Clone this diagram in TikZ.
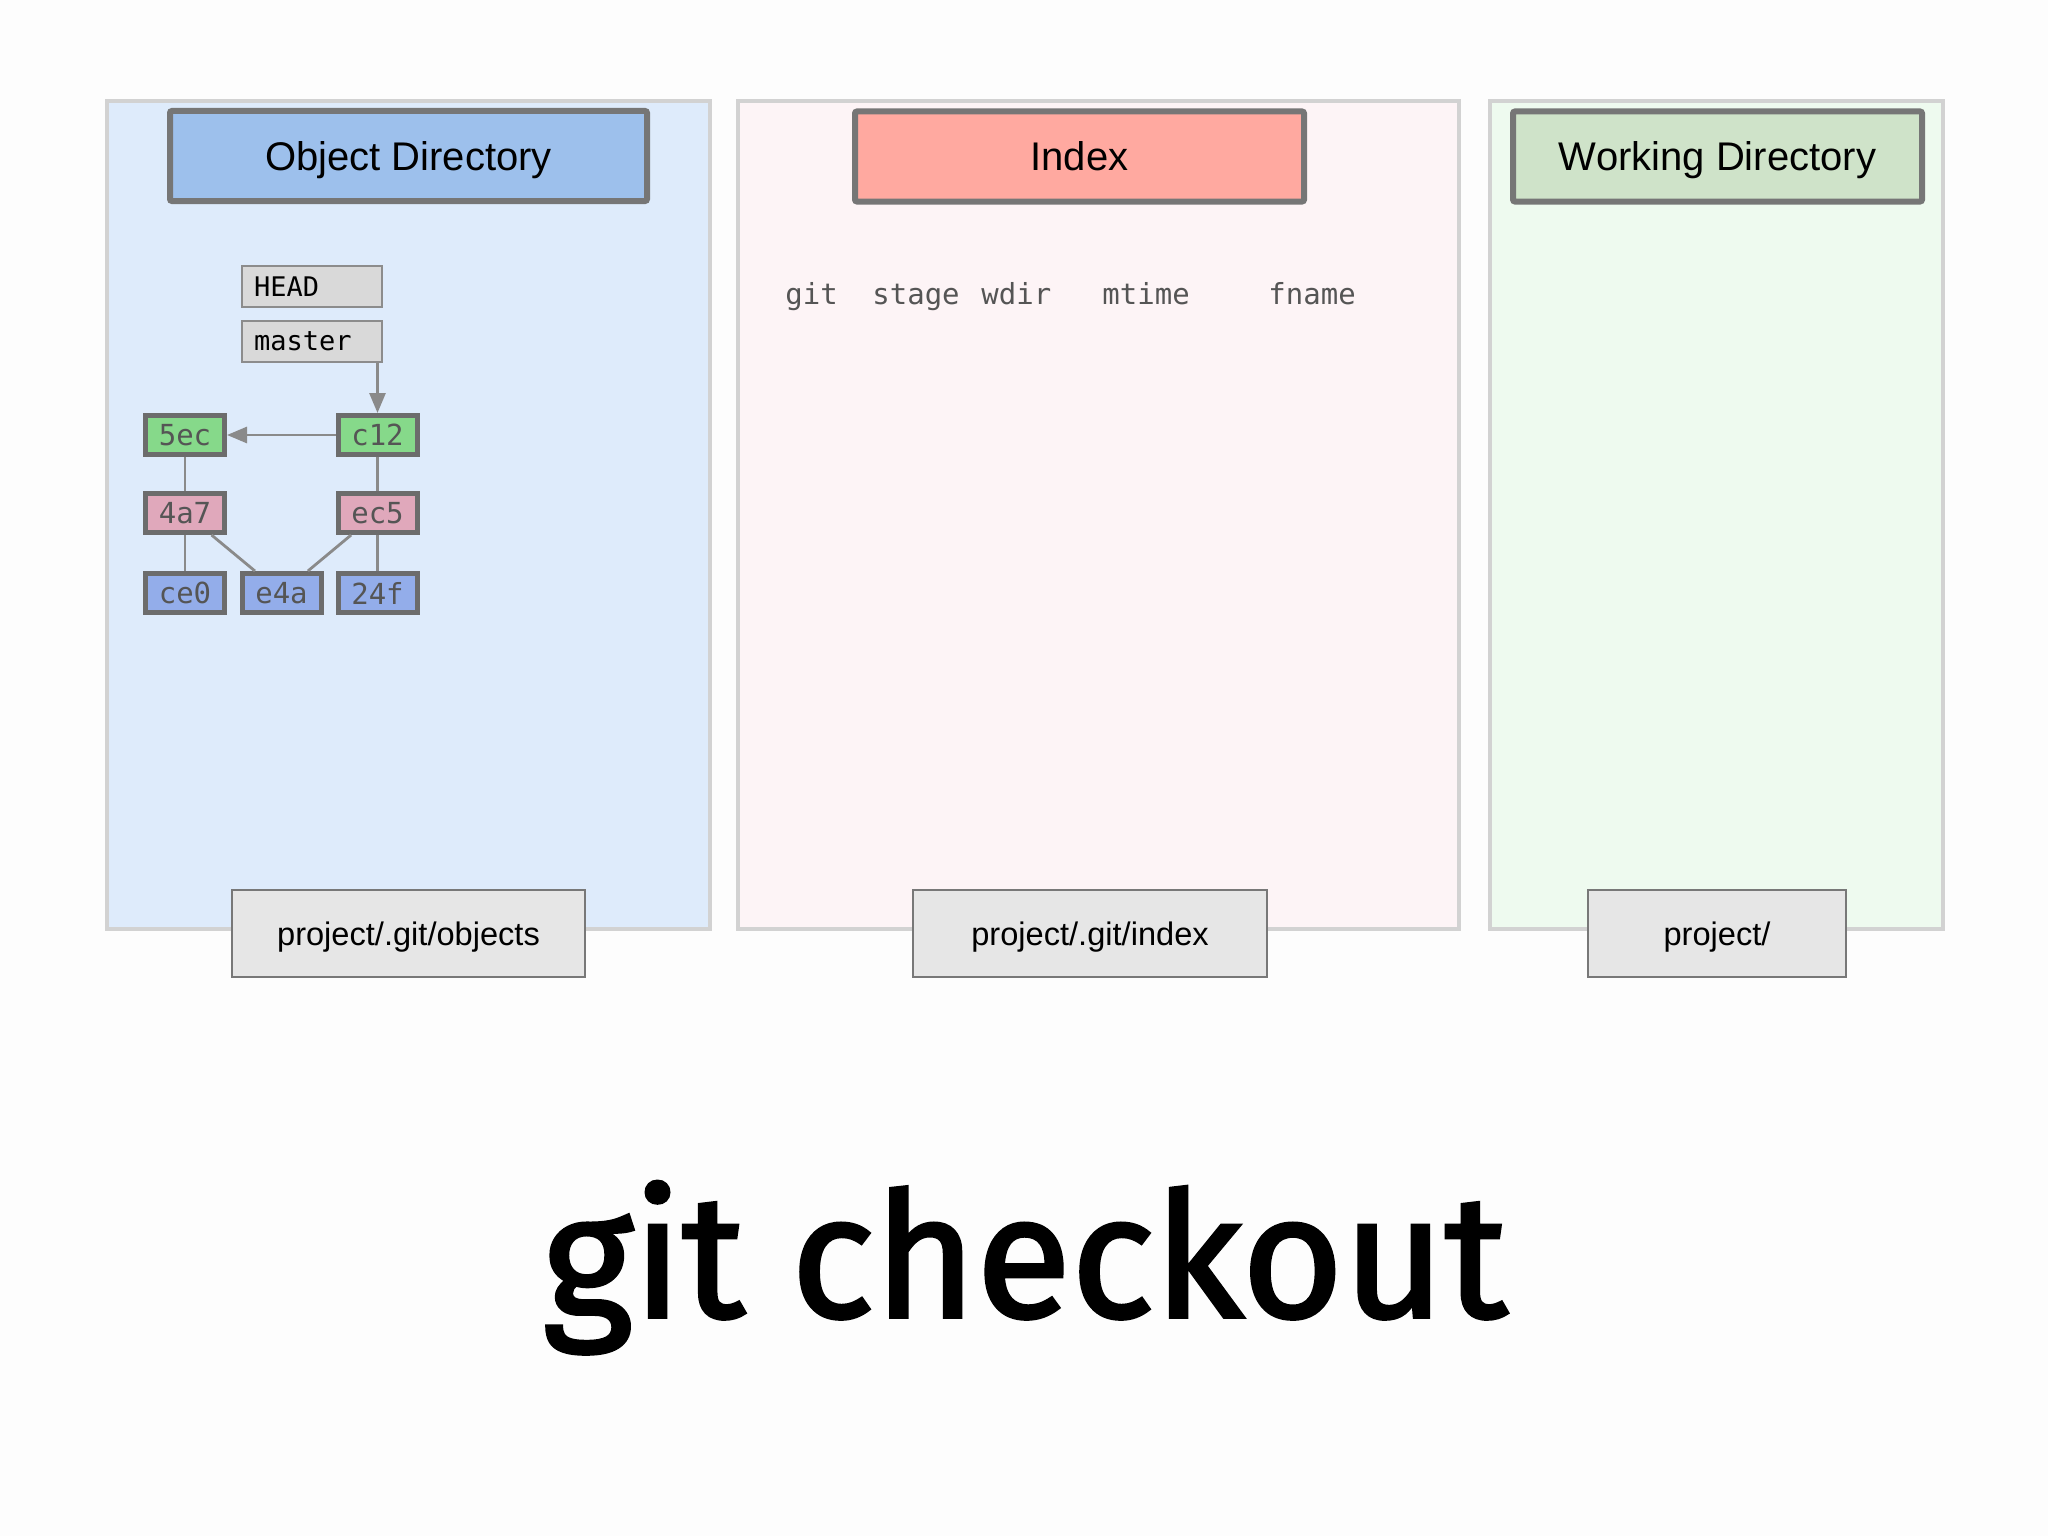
\documentclass[tikz,border=0pt]{standalone}
\usepackage{fontspec}
\setmainfont{Liberation Sans}
\newfontfamily\gitmono{DejaVu Sans Mono}
\newfontfamily\gittitle[FakeBold=2]{Fira Sans}
\usetikzlibrary{arrows.meta}
\usepackage{xcolor}

\definecolor{pagebg}{RGB}{253,253,253}
\definecolor{panelline}{RGB}{210,210,210}
\definecolor{objpanel}{RGB}{222,235,251}
\definecolor{idxpanel}{RGB}{253,244,246}
\definecolor{wdirpanel}{RGB}{238,250,239}
\definecolor{hdrline}{RGB}{118,118,118}
\definecolor{objhdr}{RGB}{157,192,236}
\definecolor{idxhdr}{RGB}{255,169,160}
\definecolor{wdirhdr}{RGB}{207,227,201}
\definecolor{objline}{RGB}{108,108,108}
\definecolor{objtext}{RGB}{85,85,85}
\definecolor{commitfill}{RGB}{134,217,138}
\definecolor{treefill}{RGB}{224,168,187}
\definecolor{blobfill}{RGB}{147,173,234}
\definecolor{reffill}{RGB}{217,217,217}
\definecolor{refline}{RGB}{140,140,140}
\definecolor{pathfill}{RGB}{230,230,230}
\definecolor{pathline}{RGB}{120,120,120}
\definecolor{edgeline}{RGB}{138,138,138}

\tikzset{
  panel/.style={draw=panelline, line width=2pt},
  header/.style={draw=hdrline, line width=3pt, rounded corners=1pt, minimum height=45pt, inner sep=0pt, text height=14.3pt, text depth=0pt, font=\fontsize{20}{24}\selectfont},
  gitobj/.style={draw=objline, line width=2.5pt, minimum width=39.5pt, minimum height=19.5pt, inner sep=0pt, text=objtext, font=\gitmono\fontsize{14.5}{16}\selectfont},
  commit/.style={gitobj, fill=commitfill},
  tree/.style={gitobj, fill=treefill},
  blob/.style={gitobj, fill=blobfill},
  ref/.style={draw=refline, fill=reffill, line width=1.2pt, text width=58pt, align=left, inner xsep=6pt, minimum height=20.5pt, inner ysep=0pt, font=\gitmono\fontsize{13.5}{16}\selectfont},
  colname/.style={anchor=base west, inner sep=0pt, text=objtext, font=\gitmono\fontsize{14.5}{16}\selectfont},
  pathbox/.style={draw=pathline, fill=pathfill, line width=1.2pt, minimum height=43.5pt, inner sep=0pt, text height=11.7pt, text depth=0pt, font=\fontsize{16.3}{19}\selectfont},
  edge/.style={draw=edgeline, line width=1.4pt},
  arr/.style={edge, -{Triangle[length=10pt,width=8pt]}}
}

\begin{document}
\begin{tikzpicture}[x=0.5pt,y=0.5pt,yscale=-1,xscale=1]
\path[use as bounding box, fill=pagebg] (0,0) rectangle (2048,1536);

%Shape: Rectangle
\draw[panel, fill=objpanel] (107,101) rectangle (710,929);
%Shape: Rectangle
\draw[panel, fill=idxpanel] (738,101) rectangle (1459,929);
%Shape: Rectangle
\draw[panel, fill=wdirpanel] (1490,101) rectangle (1943,929);

% Text Node
\node[header, fill=objhdr, minimum width=238.5pt] (objdir) at (408.5,156) {Object Directory};
% Text Node
\node[header, fill=idxhdr, minimum width=224.5pt] (index) at (1079.5,156.5) {Index};
% Text Node
\node[header, fill=wdirhdr, minimum width=204.5pt] (wdir) at (1717.5,156.5) {Working Directory};

% Text Node
\node[ref] (head) at (312,286.5) {HEAD};
% Text Node
\node[ref] (master) at (312,341.5) {master};

% Text Node
\node[commit] (c5ec) at (185,435) {5ec};
\node[commit] (c12) at (377.5,435) {c12};
\node[tree] (t4a7) at (185,513) {4a7};
\node[tree] (ec5) at (377.5,513) {ec5};
\node[blob] (ce0) at (185,593) {ce0};
\node[blob] (e4a) at (281.5,593) {e4a};
\node[blob] (b24f) at (377.5,593) {24f};

%Straight Lines
\draw[arr] (master.south -| c12.north) -- (c12.north);
\draw[arr] (c12.west) -- (c5ec.east);
\draw[edge] (c5ec) -- (t4a7);
\draw[edge] (c12) -- (ec5);
\draw[edge] (t4a7) -- (ce0);
\draw[edge] (t4a7) -- (e4a);
\draw[edge] (ec5) -- (e4a);
\draw[edge] (ec5) -- (b24f);

% Text Node
\node[colname] (colgit) at (785,304) {git};
\node[colname] (colstage) at (872,304) {stage};
\node[colname] (colwdir) at (981,304) {wdir};
\node[colname] (colmtime) at (1102,304) {mtime};
\node[colname] (colfname) at (1268,304) {fname};

% Text Node
\node[pathbox, minimum width=176.3pt] (objpath) at (408.5,933.5) {project/.git/objects};
% Text Node
\node[pathbox, minimum width=176.8pt] (idxpath) at (1090,933.5) {project/.git/index};
% Text Node
\node[pathbox, minimum width=128.8pt] (wdirpath) at (1717,933.5) {project/};

% Text Node
\node[anchor=base, inner sep=0pt, font=\gittitle\fontsize{87}{104}\selectfont] (title) at (1025,1317) {git checkout};

\end{tikzpicture}
\end{document}
